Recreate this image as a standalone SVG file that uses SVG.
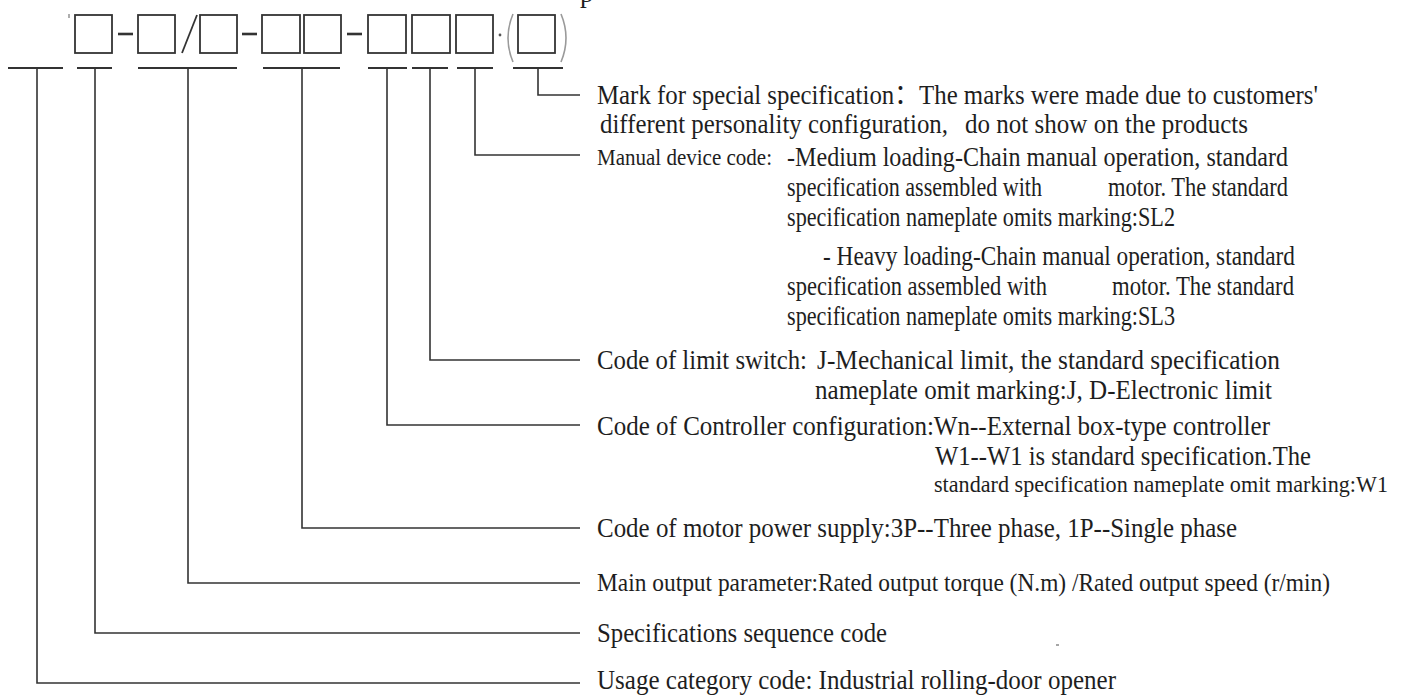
<svg xmlns="http://www.w3.org/2000/svg" width="1405" height="695" viewBox="0 0 1405 695">
  <style>
    .box { fill: none; stroke: #333; stroke-width: 1.8; }
    .dash { stroke: #333; stroke-width: 2.6; }
    .paren { fill: none; stroke: #9a9a9a; stroke-width: 1.6; }
    .bar { stroke: #333; stroke-width: 2; fill: none; }
    .lead { stroke: #333; stroke-width: 1.6; fill: none; }
    text { font-family: "Liberation Serif", "Noto Sans CJK SC", serif; font-size: 27px; fill: #1e1e1e; }
    text.s22 { font-size: 22.5px; }
    text.s23 { font-size: 23px; }
    text.s25 { font-size: 25px; }
  </style>
  <rect width="1405" height="695" fill="#fff"/>

  <!-- model code template -->
  <g id="code-template">
    <text x="580" y="2">p</text>
    <line x1="69" y1="14" x2="69" y2="18" stroke="#777" stroke-width="1.2"/>
    <rect class="box" x="75" y="15" width="37" height="38"/>
    <line class="dash" x1="118" y1="34" x2="133" y2="34"/>
    <rect class="box" x="138" y="15" width="37" height="38"/>
    <line class="box" x1="182" y1="53" x2="197" y2="15"/>
    <rect class="box" x="200" y="15" width="37" height="38"/>
    <line class="dash" x1="242" y1="34" x2="257" y2="34"/>
    <rect class="box" x="262" y="15" width="38" height="38"/>
    <rect class="box" x="304" y="15" width="37" height="38"/>
    <line class="dash" x1="347" y1="34" x2="362" y2="34"/>
    <rect class="box" x="368" y="15" width="38" height="38"/>
    <rect class="box" x="412" y="15" width="38" height="38"/>
    <rect class="box" x="456" y="15" width="37" height="38"/>
    <circle cx="500" cy="35" r="1.4" fill="#555"/>
    <path class="paren" d="M513,14 Q503,38 513,62"/>
    <rect class="box" x="518" y="15" width="37" height="38"/>
    <path class="paren" d="M561,14 Q571,38 561,62"/>
  </g>

  <!-- leader lines from each code field -->
  <g id="connectors">
    <line class="bar" x1="8" y1="68" x2="63" y2="68"/>
    <polyline class="lead" points="37,68 37,683 580,683"/>
    <line class="bar" x1="77" y1="68" x2="112" y2="68"/>
    <polyline class="lead" points="95,68 95,633 580,633"/>
    <line class="bar" x1="138" y1="68" x2="237" y2="68"/>
    <polyline class="lead" points="188,68 188,583 580,583"/>
    <line class="bar" x1="263" y1="68" x2="340" y2="68"/>
    <polyline class="lead" points="302,68 302,528 580,528"/>
    <line class="bar" x1="368" y1="68" x2="407" y2="68"/>
    <polyline class="lead" points="387,68 387,425 580,425"/>
    <line class="bar" x1="412" y1="68" x2="448" y2="68"/>
    <polyline class="lead" points="430,68 430,360 580,360"/>
    <line class="bar" x1="457" y1="68" x2="493" y2="68"/>
    <polyline class="lead" points="475,68 475,155 580,155"/>
    <line class="bar" x1="513" y1="68" x2="563" y2="68"/>
    <polyline class="lead" points="538,68 538,95 580,95"/>
  </g>

  <g id="special-mark">
    <text x="597" y="104" textLength="721" lengthAdjust="spacingAndGlyphs">Mark for special specification：The marks were made due to customers'</text>
    <text x="600" y="133" textLength="348" lengthAdjust="spacingAndGlyphs">different personality configuration,</text>
    <text x="965" y="133" textLength="283" lengthAdjust="spacingAndGlyphs">do not show on the products</text>
  </g>

  <g id="manual-device">
    <text class="s22" x="597" y="165" textLength="175" lengthAdjust="spacingAndGlyphs">Manual device code:</text>
    <text x="787" y="166" textLength="501" lengthAdjust="spacingAndGlyphs">-Medium loading-Chain manual operation, standard</text>
    <text x="787" y="196" textLength="255" lengthAdjust="spacingAndGlyphs">specification assembled with</text>
    <text x="1108" y="196" textLength="180" lengthAdjust="spacingAndGlyphs">motor. The standard</text>
    <text x="787" y="226" textLength="388" lengthAdjust="spacingAndGlyphs">specification nameplate omits marking:SL2</text>
    <text x="823" y="265" textLength="472" lengthAdjust="spacingAndGlyphs">- Heavy loading-Chain manual operation, standard</text>
    <text x="787" y="295" textLength="260" lengthAdjust="spacingAndGlyphs">specification assembled with</text>
    <text x="1112" y="295" textLength="182" lengthAdjust="spacingAndGlyphs">motor. The standard</text>
    <text x="787" y="325" textLength="388" lengthAdjust="spacingAndGlyphs">specification nameplate omits marking:SL3</text>
  </g>

  <g id="limit-switch">
    <text x="597" y="369" textLength="210" lengthAdjust="spacingAndGlyphs">Code of limit switch:</text>
    <text x="817" y="369" textLength="463" lengthAdjust="spacingAndGlyphs">J-Mechanical limit, the standard specification</text>
    <text x="815" y="399" textLength="457" lengthAdjust="spacingAndGlyphs">nameplate omit marking:J, D-Electronic limit</text>
  </g>

  <g id="controller">
    <text x="597" y="435" textLength="673" lengthAdjust="spacingAndGlyphs">Code of Controller configuration:Wn--External box-type controller</text>
    <text x="935" y="465" textLength="376" lengthAdjust="spacingAndGlyphs">W1--W1 is standard specification.The</text>
    <text class="s23" x="934" y="492" textLength="454" lengthAdjust="spacingAndGlyphs">standard specification nameplate omit marking:W1</text>
  </g>

  <g id="power-supply">
    <text x="597" y="537" textLength="640" lengthAdjust="spacingAndGlyphs">Code of motor power supply:3P--Three phase, 1P--Single phase</text>
  </g>

  <g id="output-parameter">
    <text class="s25" x="597" y="591" textLength="733" lengthAdjust="spacingAndGlyphs">Main output parameter:Rated output torque (N.m) /Rated output speed (r/min)</text>
  </g>

  <g id="sequence">
    <text x="597" y="642" textLength="290" lengthAdjust="spacingAndGlyphs">Specifications sequence code</text>
    <line x1="1056" y1="645" x2="1059" y2="645" stroke="#888" stroke-width="1.5"/>
  </g>

  <g id="usage">
    <text x="597" y="689" textLength="519" lengthAdjust="spacingAndGlyphs">Usage category code: Industrial rolling-door opener</text>
  </g>
</svg>
